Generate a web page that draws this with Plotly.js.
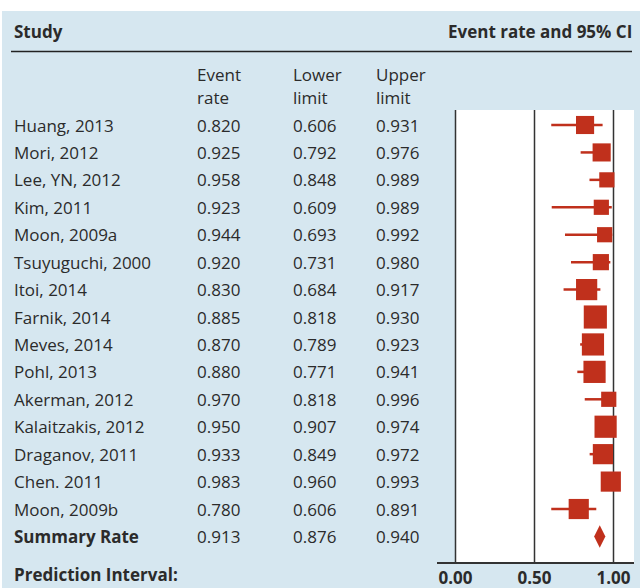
<!DOCTYPE html>
<html><head><meta charset="utf-8">
<script src="https://cdn.plot.ly/plotly-3.0.1.min.js"></script>
<style>html,body{margin:0;padding:0;background:#fff}</style>
</head><body><div id="chart" style="width:640px;height:588px"></div>
<script>
const studies = ['Huang, 2013','Mori, 2012','Lee, YN, 2012','Kim, 2011','Moon, 2009a','Tsuyuguchi, 2000','Itoi, 2014','Farnik, 2014','Meves, 2014','Pohl, 2013','Akerman, 2012','Kalaitzakis, 2012','Draganov, 2011','Chen. 2011','Moon, 2009b'];
const eventRate = [0.820,0.925,0.958,0.923,0.944,0.920,0.830,0.885,0.870,0.880,0.970,0.950,0.933,0.983,0.780];
const lowerLimit = [0.606,0.792,0.848,0.609,0.693,0.731,0.684,0.818,0.789,0.771,0.818,0.907,0.849,0.960,0.606];
const upperLimit = [0.931,0.976,0.989,0.989,0.992,0.980,0.917,0.930,0.923,0.941,0.996,0.974,0.972,0.993,0.891];
const relWeights = [5.4,5.4,3.8,3.8,3.8,4.3,7.4,8.8,8.1,8.1,3.8,8.1,6.7,6.7,6.7];
const summaryLabel = 'Summary Rate';
const summaryRate = [0.913];
const summaryLower = [0.876];
const summaryUpper = [0.940];
const tickVals = [0, 0.5, 1];
const tickText = ['0.00','0.50','1.00'];
const refLines = [0, 0.5, 1];

const W = 640, H = 588;
const px = v => v / W;
const py = v => 1 - v / H;
const red = '#c0301c';
const txt = '#2b2b2b';
const FONT = 'Open Sans, sans-serif';
const FS = 17;

const rows = studies.map((_, i) => i);
const sumRow = studies.length;

const traces = [
  {
    type: 'scatter', mode: 'markers',
    x: eventRate, y: rows,
    marker: {symbol: 'square', color: red, size: 1, opacity: 0},
    error_x: {type: 'data', symmetric: false,
      array: upperLimit.map((u, i) => u - eventRate[i]),
      arrayminus: lowerLimit.map((l, i) => eventRate[i] - l),
      color: red, thickness: 2.5, width: 0},
    hoverinfo: 'skip', showlegend: false, cliponaxis: false
  },
  {
    type: 'scatter', mode: 'markers',
    x: eventRate, y: rows,
    marker: {symbol: 'square', color: red, opacity: 1, size: relWeights.map(w => 7.8 * Math.sqrt(w)), line: {width: 0}},
    hoverinfo: 'skip', showlegend: false, cliponaxis: false
  },
  {
    type: 'scatter', mode: 'markers',
    x: summaryRate, y: [sumRow],
    marker: {symbol: 'diamond-tall', color: red, opacity: 1, size: 16, line: {width: 0}},
    hoverinfo: 'skip', showlegend: false, cliponaxis: false
  }
];

const shapes = [
  {type: 'rect', xref: 'paper', yref: 'paper', x0: px(2), x1: 1, y0: 0, y1: py(11), fillcolor: '#d6e7f0', line: {width: 0}, layer: 'below'},
  {type: 'rect', xref: 'x', yref: 'paper', x0: 0, x1: 1.2, y0: py(562), y1: py(110), fillcolor: '#ffffff', line: {width: 0}, layer: 'below'},
  {type: 'line', xref: 'paper', yref: 'paper', x0: px(11), x1: px(632), y0: py(51.5), y1: py(51.5), line: {color: '#222', width: 1.6}}
];
refLines.forEach(v => shapes.push({type: 'line', xref: 'x', yref: 'paper', x0: v, x1: v, y0: py(562), y1: py(110), line: {color: '#333', width: 1.5}, layer: 'below'}));

const ann = [];
const A = (x, y, text, opts = {}) => ann.push(Object.assign({xref: 'paper', yref: 'paper', x: px(x), y: py(y), text, showarrow: false, borderpad: 0, xanchor: 'left', yanchor: 'middle', font: {family: FONT, size: FS, color: txt}}, opts));
A(13, 31, '<b>Study</b>');
A(633, 31, '<b>Event rate and 95% CI</b>', {xanchor: 'right'});
A(196, 75, 'Event'); A(196, 97, 'rate');
A(292, 75, 'Lower'); A(292, 97, 'limit');
A(375, 75, 'Upper'); A(375, 97, 'limit');
A(13, 587, '<b>Prediction Interval:</b>', {yanchor: 'bottom'});
const rowAnn = (i, name, r, l, u) => {
  const base = {xref: 'paper', yref: 'y', y: i, showarrow: false, borderpad: 0, xanchor: 'left', yanchor: 'middle', font: {family: FONT, size: FS, color: txt}};
  ann.push(Object.assign({}, base, {x: px(13), text: name}));
  ann.push(Object.assign({}, base, {x: px(196), text: r.toFixed(3)}));
  ann.push(Object.assign({}, base, {x: px(292), text: l.toFixed(3)}));
  ann.push(Object.assign({}, base, {x: px(375), text: u.toFixed(3)}));
};
studies.forEach((s, i) => rowAnn(i, s, eventRate[i], lowerLimit[i], upperLimit[i]));
rowAnn(sumRow, '<b>' + summaryLabel + '</b>', summaryRate[0], summaryLower[0], summaryUpper[0]);

const layout = {
  width: W, height: H,
  margin: {l: 0, r: 0, t: 0, b: 0},
  paper_bgcolor: '#ffffff', plot_bgcolor: 'rgba(0,0,0,0)',
  font: {family: FONT, color: txt},
  xaxis: {
    domain: [px(437), px(634)],
    range: [(437 - 455.5) / 158, (634 - 455.5) / 158],
    anchor: 'free', position: py(562),
    showline: true, linecolor: '#333', linewidth: 1.5,
    showgrid: false, zeroline: false, ticks: '',
    tickvals: tickVals, ticktext: tickText,
    tickfont: {family: FONT, size: 17, color: txt, weight: 'bold'},
    fixedrange: true
  },
  yaxis: {
    domain: [0, 1], range: [(588 - 125) / 27.43, (0 - 125) / 27.43],
    visible: false, showgrid: false, zeroline: false, fixedrange: true
  },
  shapes, annotations: ann, showlegend: false
};
Plotly.newPlot('chart', traces, layout, {staticPlot: true, displayModeBar: false});
</script></body></html>
